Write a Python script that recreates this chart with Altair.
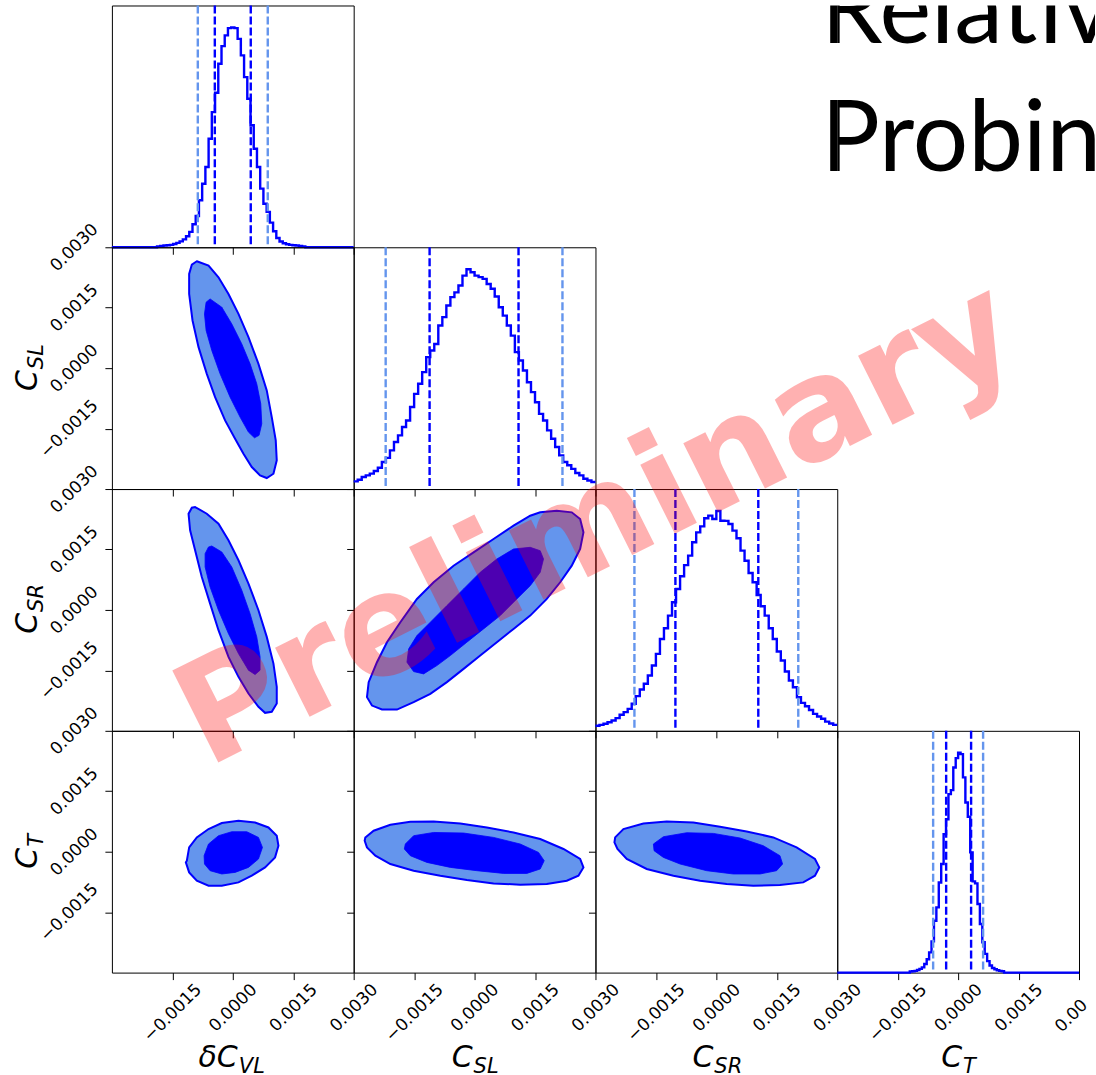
import altair as alt
import pandas as pd

# ---------------------------------------------------------------------------
# common settings
# ---------------------------------------------------------------------------
LO, HI = -0.003, 0.003
TICK_VALUES = [-0.0015, 0.0, 0.0015, 0.003]
SIZE = 242
BLUE = "#0000ff"
LIGHT = "#6495ed"
U = 1e-4  # contour vertices below are listed in units of 1e-4

# ---------------------------------------------------------------------------
# marginal histograms: equal-width bins starting at LO, heights relative to the tallest bin
# ---------------------------------------------------------------------------
dcvl_bin = 8e-5
dcvl_hist = [
    0, 0, 0, 0, 0, 0, 0, 0, 0, 0, 0, 0, 0, 0, 0.004, 0.006,
    0.008, 0.009, 0.011, 0.015, 0.020, 0.027, 0.036, 0.050, 0.070, 0.105,
    0.142, 0.214, 0.289, 0.365, 0.494, 0.615, 0.703, 0.835, 0.915, 0.964,
    0.997, 1.000, 0.997, 0.948, 0.873, 0.774, 0.676, 0.555, 0.448, 0.365,
    0.267, 0.198, 0.161, 0.112, 0.073, 0.042, 0.026, 0.018, 0.014, 0.011,
    0.009, 0.008,
    0.006, 0.004, 0, 0, 0, 0, 0, 0, 0, 0, 0, 0, 0, 0, 0, 0, 0,
]

csl_bin = 1e-4
csl_hist = [
    0.035, 0.042, 0.055, 0.062, 0.070, 0.082, 0.097, 0.123, 0.142, 0.176,
    0.214, 0.244, 0.282, 0.312, 0.373, 0.433, 0.479, 0.532, 0.600, 0.630,
    0.660, 0.744, 0.782, 0.835, 0.873, 0.895, 0.926, 0.971, 1.000, 0.986,
    0.971, 0.964, 0.956, 0.933, 0.911, 0.876, 0.827, 0.789, 0.744, 0.698,
    0.623, 0.585, 0.539, 0.486, 0.441, 0.395, 0.342, 0.312, 0.267, 0.229,
    0.191, 0.153, 0.123, 0.108, 0.092, 0.073, 0.062, 0.047, 0.039, 0.032,
]

csr_bin = 1e-4
csr_hist = [
    0.023, 0.027, 0.032, 0.039, 0.047, 0.058, 0.073, 0.085, 0.100, 0.123,
    0.158, 0.188, 0.214, 0.252, 0.297, 0.350, 0.418, 0.467, 0.524, 0.585,
    0.645, 0.703, 0.754, 0.797, 0.858, 0.903, 0.930, 0.967, 0.979, 0.964,
    1.000, 0.956, 0.955, 0.941, 0.911, 0.876, 0.820, 0.774, 0.718, 0.676,
    0.618, 0.567, 0.524, 0.467, 0.418, 0.361, 0.320, 0.270, 0.229, 0.198,
    0.153, 0.127, 0.112, 0.095, 0.077, 0.065, 0.055, 0.042, 0.033, 0.027,
]

ct_bin = 6e-5
ct_hist = [
    0, 0, 0, 0, 0, 0, 0, 0, 0, 0, 0, 0, 0, 0, 0,
    0, 0, 0, 0, 0, 0, 0, 0, 0, 0, 0, 0, 0, 0, 0,
    0.005, 0.006, 0.008, 0.012, 0.017, 0.024, 0.039, 0.061, 0.092, 0.142,
    0.236, 0.297, 0.410, 0.494, 0.630, 0.698, 0.812, 0.830, 0.933, 0.976,
    1.000, 0.994, 0.888, 0.774, 0.709, 0.547, 0.415, 0.406, 0.312, 0.221,
    0.138, 0.085, 0.052, 0.032, 0.021, 0.015, 0.011, 0.008, 0.006,
    0, 0, 0, 0, 0, 0, 0, 0, 0, 0, 0, 0, 0, 0, 0, 0,
    0, 0, 0, 0, 0, 0, 0, 0, 0, 0, 0, 0, 0, 0, 0,
]

# quantiles drawn on the marginals: 2.5%, 16%, 84%, 97.5%
quantile_bands = ["95%", "68%", "68%", "95%"]
dcvl_q = [-0.000868, -0.000446, 0.000446, 0.000868]
csl_q = [-0.002206, -0.001116, 0.001091, 0.002181]
csr_q = [-0.002033, -0.001016, 0.001041, 0.002033]
ct_q = [-0.000620, -0.000297, 0.000322, 0.000620]

# ---------------------------------------------------------------------------
# 2-D credible regions (95% outer, 68% inner), vertices in units of 1e-4
# ---------------------------------------------------------------------------
# C_SL vs dC_VL
a95_x = [-8.93, -6.02, -3.55, -1.07, 1.41, 3.89, 6.37, 8.43, 9.67, 10.66, 10.91, 10.09, 8.43,
         6.77, 4.71, 2.65, 0.57, -1.91, -4.39, -6.45, -8.50, -9.99, -10.83, -10.83, -10.16]
a95_y = [26.53, 25.46, 22.56, 18.42, 13.46, 7.69, 1.07, -5.53, -12.15, -17.92, -22.88, -26.20, -27.27,
         -26.60, -24.54, -21.25, -17.53, -12.97, -7.19, -1.41, 5.21, 11.83, 18.42, 23.38, 25.71]
a68_x = [-5.63, -2.73, -0.25, 2.23, 4.29, 5.95, 6.94, 7.19, 6.52, 5.38, 3.89, 1.81, -0.67,
         -3.15, -5.21, -6.62, -7.02, -6.62]
a68_y = [17.18, 15.12, 10.98, 6.02, 1.07, -3.89, -8.85, -13.81, -16.68, -17.28, -15.87, -12.15, -7.19,
         -1.41, 4.39, 9.35, 13.46, 16.36]

# C_SR vs dC_VL
b95_x = [-9.35, -6.45, -3.55, -1.07, 1.41, 3.89, 6.37, 8.43, 10.09, 10.91, 10.91, 9.67, 8.01,
         6.37, 3.89, 1.41, -1.07, -3.55, -5.63, -7.69, -9.35, -10.59, -10.98, -10.16]
b95_y = [25.54, 23.87, 21.39, 17.28, 12.32, 6.52, -0.07, -6.69, -13.31, -19.09, -23.23, -25.29, -25.54,
         -24.05, -20.75, -16.61, -11.65, -5.03, 1.56, 8.18, 14.80, 19.76, 23.87, 25.36]
b68_x = [-5.21, -2.73, -0.25, 2.23, 4.29, 5.95, 6.77, 6.77, 5.53, 3.89, 1.41, -1.07, -3.55,
         -5.63, -6.87, -6.87, -6.02]
b68_y = [15.87, 14.38, 10.66, 4.88, -0.92, -6.69, -11.65, -14.95, -16.04, -14.95, -10.83, -5.88, -0.07,
         5.70, 10.66, 13.96, 15.62]

# C_T vs dC_VL
c95_x = [-11.40, -10.83, -8.93, -6.02, -2.73, 1.41, 5.53, 8.85, 10.91, 11.33, 10.49, 8.01, 4.71,
         1.41, -2.73, -6.02, -8.93, -10.83, -11.65]
c95_y = [-2.23, 1.07, 3.55, 5.63, 7.12, 7.69, 7.26, 6.02, 3.97, 1.49, -1.41, -3.89, -5.95,
         -7.61, -8.43, -8.43, -7.19, -5.13, -2.65]
c68_x = [-7.12, -6.02, -3.55, -0.25, 3.47, 6.37, 7.36, 6.37, 3.89, 0.57, -2.73, -5.63, -7.02]
c68_y = [-0.99, 1.91, 3.97, 4.96, 4.96, 3.55, 1.07, -1.81, -3.89, -5.13, -5.53, -4.71, -3.05]

# C_SR vs C_SL
d95_x = [16.29, 20.40, 24.12, 26.20, 27.02, 26.20, 24.12, 21.25, 17.92, 13.81, 9.67, 5.53, 1.41,
         -2.73, -6.87, -10.98, -15.12, -19.26, -22.98, -25.46, -26.70, -26.28, -24.22, -21.74,
         -18.42, -14.30, -10.16, -5.21, -0.25, 4.71, 9.67, 13.81]
d95_y = [24.22, 24.62, 24.22, 22.56, 19.26, 15.12, 10.98, 6.87, 2.73, -1.41, -4.71, -8.01, -11.33,
         -14.63, -17.92, -20.83, -22.88, -24.72, -24.72, -23.73, -21.64, -17.92, -12.97, -8.01,
         -3.05, 2.73, 6.87, 10.98, 14.30, 17.60, 20.90, 23.38]
d68_x = [9.67, 13.81, 16.29, 17.11, 16.29, 13.81, 10.49, 6.37, 2.23, -1.91, -6.02, -9.35, -12.64,
         -15.12, -16.78, -16.36, -14.30, -10.98, -6.87, -2.73, 1.41, 5.53]
d68_y = [15.12, 15.54, 14.70, 12.64, 9.35, 6.02, 2.73, -1.41, -4.71, -8.01, -11.33, -13.81, -15.87,
         -15.30, -12.97, -9.67, -6.37, -3.05, 1.07, 5.21, 9.35, 12.64]

# C_T vs C_SL
e95_x = [-27.10, -25.04, -20.90, -15.94, -10.16, -3.55, 3.05, 9.67, 16.29, 22.06, 26.20, 27.02,
         25.78, 22.88, 17.92, 11.33, 4.71, -1.91, -8.50, -15.12, -20.90, -24.62, -26.70, -27.27]
e95_y = [3.55, 5.21, 6.69, 7.44, 7.51, 7.02, 6.02, 4.78, 3.15, 0.67, -1.81, -3.89,
         -5.95, -7.19, -8.01, -8.18, -7.86, -7.02, -5.95, -4.71, -3.05, -0.99, 1.07, 2.73]
e68_x = [-17.18, -15.12, -10.16, -2.73, 4.71, 11.33, 15.87, 17.28, 16.29, 12.97, 7.19, 0.57,
         -6.02, -11.83, -15.94, -17.43]
e68_y = [1.91, 3.97, 4.78, 4.64, 3.55, 1.91, -0.17, -2.23, -4.29, -5.38, -5.38, -4.71,
         -3.89, -2.65, -0.99, 0.67]

# C_T vs C_SR
f95_x = [-25.11, -23.06, -18.10, -12.32, -5.70, 0.92, 7.51, 14.13, 19.91, 24.47, 25.54, 24.47,
         21.57, 15.79, 9.17, 2.55, -4.04, -10.66, -17.28, -22.24, -24.54, -25.29]
f95_y = [3.55, 5.63, 7.02, 7.51, 7.26, 6.20, 5.03, 3.55, 1.07, -1.81, -3.89, -5.95,
         -7.61, -8.26, -8.43, -8.01, -7.19, -5.95, -4.29, -1.81, 0.67, 2.31]
f68_x = [-15.62, -13.14, -7.36, -0.74, 5.88, 11.65, 15.79, 16.44, 14.95, 10.83, 4.21, -2.40,
         -9.00, -13.14, -15.45]
f68_y = [1.91, 3.72, 4.71, 4.54, 3.40, 1.49, -0.99, -3.05, -4.71, -5.53, -5.53, -4.71,
         -3.05, -1.41, 0.25]

# axis title pieces (main symbol, subscript)
x_title_main = ["\u03b4C", "C", "C", "C"]
x_title_sub = ["VL", "SL", "SR", "T"]
y_title_main = ["C", "C", "C"]
y_title_sub = ["SL", "SR", "T"]

heading_lines = ["Relative", "Probing"]
watermark = ["Preliminary"]


# ---------------------------------------------------------------------------
# helpers
# ---------------------------------------------------------------------------
def scale():
    return alt.Scale(domain=[LO, HI], nice=False, zero=False)


def axis(show_labels, padding, edge_label=False):
    props = dict(values=TICK_VALUES, format=".4f", labels=show_labels, title=None,
                 grid=False, domain=False, ticks=True, tickSize=7, tickColor="black",
                 tickWidth=1, labelAngle=315, labelAlign="center", labelBaseline="middle",
                 labelFont="DejaVu Sans", labelFontSize=17, labelColor="black",
                 labelFlush=False, labelOverlap=False, labelBound=False)
    if edge_label:
        # the label sitting on the right edge of the figure is cut to its first characters
        props["labelExpr"] = "datum.value >= 0.003 ? '0.00' : datum.label"
        props["labelOffset"] = {"condition": {"test": "datum.value >= 0.003", "value": -8},
                                "value": 0}
        props["labelPadding"] = {"condition": [
            {"test": "datum.value >= 0.003", "value": padding + 8},
            {"test": "datum.value < 0", "value": padding + 5}], "value": padding}
    else:
        props["labelPadding"] = {"condition": {"test": "datum.value < 0", "value": padding + 5},
                                 "value": padding}
    return alt.Axis(**props)


def x_axis(show_labels, edge_label=False):
    return axis(show_labels, 28, edge_label)


def y_axis(show_labels):
    return axis(show_labels, 31)


def text_mark(txt, x, y, size, align, angle=0):
    return alt.Chart(pd.DataFrame({"t": [txt]})).mark_text(
        font="DejaVu Sans", fontStyle="italic", fontSize=size, align=align,
        baseline="alphabetic", color="black", angle=angle).encode(
        text="t:N", x=alt.value(x), y=alt.value(y))


def x_title(k, split):
    return [text_mark(x_title_main[k], split, 336, 30, "right"),
            text_mark(x_title_sub[k], split + 1, 342, 21, "left")]


def y_title(k, split):
    return [text_mark(y_title_main[k], -75, split, 30, "right", angle=270),
            text_mark(y_title_sub[k], -69, split - 1, 21, "left", angle=270)]


def histogram(values, bin_width, quantiles, show_labels, edge_label=False):
    edges = [LO + k * bin_width for k in range(len(values) + 1)]
    df = pd.DataFrame({"x": edges, "h": list(values) + [values[-1]]})
    xax = x_axis(show_labels, edge_label)
    step = alt.Chart(df).mark_line(interpolate="step-after", color=BLUE, strokeWidth=2.4).encode(
        x=alt.X("x:Q", scale=scale(), axis=xax),
        y=alt.Y("h:Q", scale=alt.Scale(domain=[0, 1.1], nice=False), axis=None),
    )
    qdf = pd.DataFrame({"x": quantiles, "band": quantile_bands})
    rules = alt.Chart(qdf).mark_rule(strokeDash=[8, 3], strokeWidth=2.4).encode(
        x=alt.X("x:Q", scale=scale(), axis=xax),
        color=alt.Color("band:N", scale=alt.Scale(domain=["68%", "95%"], range=[BLUE, LIGHT]),
                        legend=None),
    )
    return [step, rules]


def region(xs, ys, fill, width, show_x, show_y):
    df = pd.DataFrame({"i": list(range(len(xs))),
                       "x": [v * U for v in xs],
                       "y": [v * U for v in ys]})
    return alt.Chart(df).mark_line(interpolate="linear-closed", color=BLUE, fill=fill,
                                   strokeWidth=width).encode(
        x=alt.X("x:Q", scale=scale(), axis=x_axis(show_x)),
        y=alt.Y("y:Q", scale=scale(), axis=y_axis(show_y)),
        order="i:Q",
    )


def contour(x95, y95, x68, y68, show_x, show_y):
    return [region(x95, y95, LIGHT, 2, show_x, show_y),
            region(x68, y68, BLUE, 0.8, show_x, show_y)]


def panel(layers):
    return alt.layer(*layers).properties(width=SIZE, height=SIZE)


def blank(width=SIZE):
    return alt.Chart(pd.DataFrame({"t": [""]})).mark_text().encode(
        text="t:N", x=alt.value(width / 2), y=alt.value(SIZE / 2)
    ).properties(width=width, height=SIZE, view=alt.ViewBackground(stroke="transparent"))


def heading(x_start, width):
    # the two heading lines, clipped to the cell they are drawn in
    return alt.layer(
        *[alt.Chart(pd.DataFrame({"t": [heading_lines[k]]})).mark_text(
            font="Lato", fontSize=98, align="left", baseline="alphabetic", color="black",
            clip=True).encode(text="t:N", x=alt.value(x_start), y=alt.value(yy))
          for k, yy in enumerate([38, 166])]
    ).properties(width=width, height=SIZE, view=alt.ViewBackground(stroke="transparent"))


# watermark drawn last so that it sits above every panel
stamp = alt.Chart(pd.DataFrame({"t": watermark})).mark_text(
    font="DejaVu Sans", fontWeight="bold", fontSize=141, align="center", baseline="alphabetic",
    color="#ff0000", opacity=0.3, angle=333.4).encode(
    text="t:N", x=alt.value(-221), y=alt.value(-168))

# ---------------------------------------------------------------------------
# corner grid, 4 cells per row, placed edge to edge
# ---------------------------------------------------------------------------
cells = [
    # row 0
    panel(histogram(dcvl_hist, dcvl_bin, dcvl_q, False)), blank(),
    heading(226, SIZE), heading(-16, SIZE + 16),
    # row 1
    panel(contour(a95_x, a95_y, a68_x, a68_y, False, True) + y_title(0, 123)),
    panel(histogram(csl_hist, csl_bin, csl_q, False)), blank(), blank(),
    # row 2
    panel(contour(b95_x, b95_y, b68_x, b68_y, False, True) + y_title(1, 124)),
    panel(contour(d95_x, d95_y, d68_x, d68_y, False, False)),
    panel(histogram(csr_hist, csr_bin, csr_q, False)), blank(),
    # row 3
    panel(contour(c95_x, c95_y, c68_x, c68_y, True, True) + y_title(2, 117) + x_title(0, 126)),
    panel(contour(e95_x, e95_y, e68_x, e68_y, True, False) + x_title(1, 119)),
    panel(contour(f95_x, f95_y, f68_x, f68_y, True, False) + x_title(2, 118)),
    panel(histogram(ct_hist, ct_bin, ct_q, True, edge_label=True) + x_title(3, 125) + [stamp]),
]

chart = alt.concat(*cells, columns=4, spacing=0, bounds="flush", align="each").properties(
    padding={"left": 12, "top": 3, "right": 0, "bottom": 0},
    background="white",
).configure_view(stroke="black", strokeWidth=1)

chart.save("out.html", embed_options={"renderer": "svg", "actions": False})
